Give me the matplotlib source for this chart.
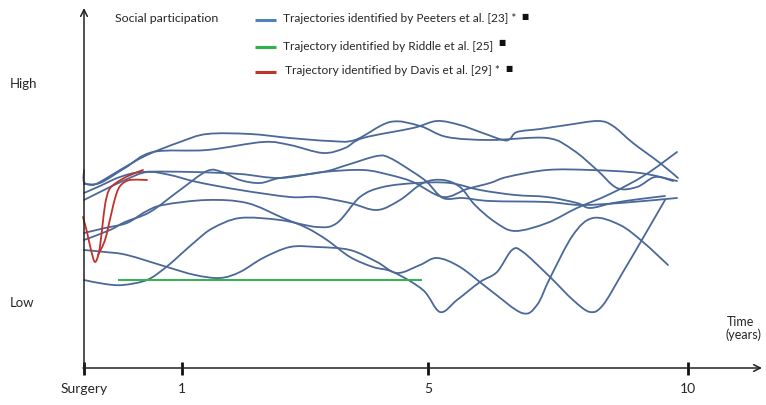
import matplotlib
matplotlib.use("Agg")
import matplotlib.pyplot as plt
from matplotlib.path import Path
from matplotlib.patches import PathPatch

# ---------------- data (schematic units: time on x, participation level on y) -------------
peeters_1_t = [0, 0, 8, 16, 36, 63, 96, 123, 166, 206, 246, 271, 306, 336, 363, 406, 463, 489, 513, 533, 553, 571, 589]
peeters_1_v = [198, 186, 183, 186, 198, 213, 226, 234, 234, 230, 227, 228, 246, 242, 231, 228, 230, 218, 198, 180, 181, 191, 187]

peeters_2_t = [0, 16, 41, 69, 123, 179, 206, 239, 261, 279, 329, 353, 376, 396, 419, 426, 433, 456, 483, 514, 529, 549, 576, 594]
peeters_2_v = [184, 185, 200, 216, 218, 226, 223, 215, 220, 230, 240, 247, 243, 236, 228, 229, 236, 239, 243, 247, 242, 225, 205, 190]

peeters_3_t = [0, 16, 36, 59, 109, 156, 196, 239, 279, 306, 329, 359, 383, 406, 423, 463, 506, 556, 593]
peeters_3_v = [175, 182, 191, 196, 196, 194, 190, 196, 198, 193, 186, 171, 179, 185, 191, 198, 198, 195, 187]

peeters_4_t = [0, 16, 41, 63, 86, 113, 156, 206, 233, 266, 293, 316, 339, 359, 376, 391, 411, 431, 463, 493, 526, 561, 593]
peeters_4_v = [168, 176, 188, 196, 193, 186, 178, 171, 171, 165, 158, 168, 185, 188, 181, 163, 146, 137, 145, 160, 174, 193, 216]

peeters_5_t = [0, 26, 41, 66, 96, 123, 138, 156, 176, 196, 239, 263, 293, 306, 329, 343, 359, 379, 406, 463, 496, 536, 593]
peeters_5_v = [128, 138, 146, 156, 178, 197, 196, 188, 185, 190, 196, 203, 212, 210, 196, 186, 170, 170, 167, 166, 163, 165, 170]

peeters_6_t = [0, 21, 43, 61, 79, 123, 163, 199, 223, 243, 266, 289, 309, 339, 356, 373, 396, 413, 428, 439, 466, 489, 506, 519, 539, 559, 581]
peeters_6_v = [135, 140, 145, 156, 163, 168, 165, 150, 140, 128, 111, 101, 96, 78, 56, 68, 86, 96, 118, 116, 91, 68, 56, 63, 96, 130, 168]

peeters_7_t = [0, 21, 39, 63, 81, 96, 113, 129, 156, 196, 233, 253, 276, 299, 333, 366, 396, 431, 463, 493, 506, 529, 556, 581]
peeters_7_v = [88, 84, 83, 88, 100, 113, 128, 140, 150, 148, 141, 145, 171, 181, 185, 185, 178, 173, 171, 165, 160, 165, 169, 172]

peeters_8_t = [0, 21, 43, 83, 111, 136, 156, 179, 206, 233, 266, 293, 313, 336, 353, 376, 406, 438, 453, 466, 489, 509, 536, 559, 584]
peeters_8_v = [118, 116, 113, 101, 93, 90, 96, 110, 121, 121, 118, 106, 95, 103, 110, 101, 78, 55, 63, 90, 133, 150, 143, 126, 103]

davis_1_t = [-1, 3, 7, 11, 15, 18, 21, 25, 32, 44, 59]
davis_1_v = [151, 136, 118, 106, 116, 138, 163, 178, 185, 192, 198]
davis_2_t = [14, 21, 27, 32, 37, 46, 63]
davis_2_v = [113, 128, 153, 173, 183, 188, 188]

riddle_t = [34, 338]
riddle_v = [88, 88]

peeters_t = [peeters_1_t, peeters_2_t, peeters_3_t, peeters_4_t, peeters_5_t, peeters_6_t, peeters_7_t, peeters_8_t]
peeters_v = [peeters_1_v, peeters_2_v, peeters_3_v, peeters_4_v, peeters_5_v, peeters_6_v, peeters_7_v, peeters_8_v]
davis_t = [davis_1_t, davis_2_t]
davis_v = [davis_1_v, davis_2_v]

tick_pos = [0, 98, 344, 604]
tick_labels = ["Surgery", "1", "5", "10"]

legend_labels = ["Trajectories identified by Peeters et al. [23] *",
                 "Trajectory identified by Riddle et al. [25]",
                 "Trajectory identified by Davis et al. [29] *"]

# ---------------- styles ----------------
BLUE = "#4a6898"
BLUE_LEG = "#4f81bd"
GREEN = "#2fb34c"
RED = "#c0322a"
TXT = "#262626"
FONT = ["Lato", "DejaVu Sans"]
plt.rcParams["font.family"] = FONT


def smooth_path(xs, ys):
    """Catmull-Rom through the read points, drawn as matplotlib cubic Bezier path."""
    pts = list(zip(xs, ys))
    verts = [pts[0]]
    codes = [Path.MOVETO]
    n = len(pts)
    for i in range(n - 1):
        p0 = pts[i - 1] if i > 0 else pts[i]
        p1 = pts[i]
        p2 = pts[i + 1]
        p3 = pts[i + 2] if i + 2 < n else pts[i + 1]
        c1 = (p1[0] + (p2[0] - p0[0]) / 6.0, p1[1] + (p2[1] - p0[1]) / 6.0)
        c2 = (p2[0] - (p3[0] - p1[0]) / 6.0, p2[1] - (p3[1] - p1[1]) / 6.0)
        verts += [c1, c2, p2]
        codes += [Path.CURVE4] * 3
    return Path(verts, codes)


fig = plt.figure(figsize=(7.66, 4.05), dpi=100)
ax = fig.add_axes([0, 0, 1, 1])
ax.set_xlim(-84, 682)
ax.set_ylim(-37, 368)
ax.axis("off")

for xs, ys in zip(peeters_t, peeters_v):
    ax.add_patch(PathPatch(smooth_path(xs, ys), fill=False, edgecolor=BLUE, lw=1.3,
                           capstyle="round", joinstyle="round"))
ax.plot(riddle_t, riddle_v, color=GREEN, lw=1.4, solid_capstyle="butt")
for xs, ys in zip(davis_t, davis_v):
    ax.add_patch(PathPatch(smooth_path(xs, ys), fill=False, edgecolor=RED, lw=1.3,
                           capstyle="round", joinstyle="round"))

# axes with arrows
ax.annotate("", xy=(0, 360), xytext=(0, -1),
            arrowprops=dict(arrowstyle="->", lw=1.1, color="#222222", mutation_scale=12,
                            shrinkA=0, shrinkB=0))
ax.annotate("", xy=(678, 0), xytext=(-1, 0),
            arrowprops=dict(arrowstyle="->", lw=1.1, color="#222222", mutation_scale=12,
                            shrinkA=0, shrinkB=0))
ax.vlines(tick_pos, -7, 6, color="#111111", lw=2.0)
for p, lab in zip(tick_pos, tick_labels):
    ax.text(p, -21, lab, ha="center", va="center", fontsize=10, color=TXT)

ax.text(31, 350, "Social participation", ha="left", va="center", fontsize=8.9, color=TXT)
ax.text(-74, 284, "High", ha="left", va="center", fontsize=9.5, color=TXT)
ax.text(-74, 65, "Low", ha="left", va="center", fontsize=9.5, color=TXT)
ax.text(643, 46, "Time", ha="left", va="center", fontsize=9, color=TXT)
ax.text(641, 33, "(years)", ha="left", va="center", fontsize=9, color=TXT)

leg_y = [348, 321, 296]
leg_c = [BLUE_LEG, GREEN, RED]
leg_x = [199, 199, 201]
texts = []
for y, c, x, lab in zip(leg_y, leg_c, leg_x, legend_labels):
    ax.plot([171, 192], [y, y], color=c, lw=2.2, solid_capstyle="butt")
    texts.append(ax.text(x, y + 1, lab, ha="left", va="center", fontsize=8.6, color=TXT))

fig.canvas.draw()
renderer = fig.canvas.get_renderer()
inv = ax.transData.inverted()
for t, y in zip(texts, leg_y):
    bb = t.get_window_extent(renderer)
    x_end = inv.transform((bb.x1, bb.y0))[0]
    ax.text(x_end + 5, y + 4, "\u25a0", ha="left", va="center", fontsize=5.5,
            color="#111111", family=["DejaVu Sans"])

fig.savefig("out.png", dpi=100)
